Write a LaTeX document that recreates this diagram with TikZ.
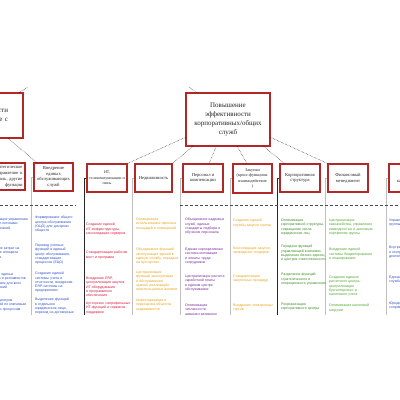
\documentclass[tikz,border=0pt]{standalone}
\usepackage{fontspec}
\setmainfont{Liberation Serif}
\newfontfamily\colfont{Liberation Sans}
\usetikzlibrary{calc}
\definecolor{boxred}{RGB}{178,40,40}
\definecolor{cblue}{RGB}{45,75,195}
\definecolor{cred}{RGB}{210,20,60}
\definecolor{camber}{RGB}{228,160,20}
\definecolor{cpurple}{RGB}{115,40,150}
\definecolor{cgreen}{RGB}{55,135,30}
\definecolor{cgreen2}{RGB}{75,160,40}
\begin{document}
\begin{tikzpicture}[x=1pt,y=-1pt,
  box/.style={draw=boxred, line width=1.1pt, fill=white, align=center, inner sep=1pt,
    font=\fontsize{4.6}{5.8}\selectfont, text=black!85},
  bigbox/.style={box, font=\fontsize{7}{8.7}\selectfont},
  conn/.style={densely dotted, line width=0.45pt, black},
  vdark/.style={line width=0.6pt, black!85},
  vlight/.style={line width=0.5pt, black!25},
  dline/.style={densely dashed, line width=0.5pt, black!70},
  item/.style={anchor=north west, text width=#1, align=left, inner sep=0pt,
    font=\colfont\fontsize{3.5}{4.25}\selectfont}]
\useasboundingbox (0,0) rectangle (400,400);
\begin{scope}
\clip (0,0) rectangle (400,314);
% parent boxes
\node[bigbox, minimum width=83pt, minimum height=45pt, text width=53pt, inner xsep=15pt, align=right] (lp) at (-18.5,115.5) {эффективности\\взаимодействие с};
\node[bigbox, minimum width=84pt, minimum height=53pt] (top) at (228,119.5) {Повышение\\эффективности\\корпоративных/общих\\служб};
% second row boxes
\node[box, minimum width=45pt, minimum height=27pt, text width=40pt, align=right] (b0) at (2.5,176.5) {Стратегическое управление и\\контроль, другие\\функции};
\node[box, minimum width=39pt, minimum height=28pt] (b1) at (53.5,177) {Внедрение\\единых\\обслуживающих\\служб};
\node[box, minimum width=40pt, minimum height=28pt, font=\fontsize{4}{5.4}\selectfont] (it) at (107,178) {ИТ,\\телекоммуникации и\\связь};
\node[box, minimum width=37pt, minimum height=28pt] (nd) at (153.5,178) {Недвижимость};
\node[box, minimum width=40pt, minimum height=28pt] (ps) at (203,178) {Персонал и\\компенсации};
\node[box, minimum width=39pt, minimum height=29pt, font=\fontsize{4.2}{5.4}\selectfont] (zk) at (252.5,178.5) {Закупки\\(кросс-функцион.\\взаимодействие\\)};
\node[box, minimum width=40pt, minimum height=28pt] (kp) at (300,178) {Корпоративная\\структура};
\node[box, minimum width=40pt, minimum height=28pt] (fn) at (348,178) {Финансовый\\менеджмент};
\node[box, minimum width=41pt, minimum height=28pt] (rt) at (409.5,178) {Задачи\\казначейства};
% connectors
\coordinate (lpup) at (28,87);
\coordinate (topup) at (189,87);
\draw[conn] ($(lp.north west)!0.95!(lp.north east)$) -- (lpup);
\draw[conn] ($(top.north west)!0.13!(top.north east)$) -- (topup);
\draw[conn] ($(lp.south west)!0.82!(lp.south east)$) -- ($(b1.north west)!0.08!(b1.north east)$);
\draw[conn] ($(top.north west)!0.83!(top.south west)$) -- (it.north east);
\draw[conn] ($(top.south west)!0.083!(top.south east)$) -- (nd.north east);
\draw[conn] ($(top.south west)!0.36!(top.south east)$) -- ($(ps.north west)!0.65!(ps.north east)$);
\draw[conn] ($(top.south west)!0.61!(top.south east)$) -- ($(zk.north west)!0.36!(zk.north east)$);
\draw[conn] ($(top.south west)!0.92!(top.south east)$) -- ($(kp.north west)!0.125!(kp.north east)$);
\draw[conn] ($(top.north east)!0.83!(top.south east)$) -- (fn.north west);
% vertical lines
\foreach \n/\s in {b1/vlight, it/vdark, nd/vlight, ps/vlight, zk/vlight, kp/vdark, fn/vlight, rt/vlight}{
  \coordinate (\n end) at ($(\n.west)+(-2.5,150)$);
  \draw[\s] (\n.west) -| (\n end);
}
% dashed separators
\coordinate (d1a) at (0,205.5);
\coordinate (d1b) at (76,205.5);
\coordinate (d2a) at (180,205.5);
\coordinate (d2b) at (400,205.5);
\draw[dline] (d1a) -- (d1b);
\draw[dline] (d2a) -- (d2b);
% column L0
\begin{scope}[every node/.style={item=46pt, text=cblue}]
\node (l01) at (-18,218) {Централизация управления денежными потоками группы компаний};
\node (l02) at (-18,247) {Сокращение затрат на содержание аппарата управления};
\node (l03) at (-18,273) {Внедрение единых стандартов и регламентов обслуживания для всех подразделений};
\node (l04) at (-18,299) {Создание центров компетенций по ключевым функциям и процессам};
\end{scope}
% column B1
\begin{scope}[every node/.style={item=39pt, text=cblue}]
\node (c11) at (35,216) {Формирование общего центра обслуживания (ОЦО) для дочерних обществ};
\node (c12) at (35,244) {Перевод учетных функций в единый центр обслуживания, стандартизация процессов (ЕЦО)};
\node (c13) at (35,272) {Создание единой системы учета и отчетности, внедрение ERP-системы на предприятиях};
\node (c14) at (35,298) {Выделение функций в отдельное юридическое лицо, переход на договорные отношения};
\end{scope}
% column IT
\begin{scope}[every node/.style={item=44pt, text=cred}]
\node (c21) at (86,223) {Создание единой ИТ-инфраструктуры, консолидация серверов};
\node (c22) at (86,251) {Стандартизация рабочих мест и программ};
\node (c23) at (86,277) {Внедрение ERP, централизация закупок ИТ-оборудования и программного обеспечения};
\node (c24) at (86,302) {Аутсорсинг непрофильных ИТ-функций и сервисов поддержки};
\end{scope}
% column real estate
\begin{scope}[every node/.style={item=44pt, text=camber}]
\node (c31) at (136,218) {Оптимизация использования офисных площадей и помещений};
\node (c32) at (136,248) {Объединение функций эксплуатации зданий в единую службу, передача на аутсорсинг};
\node (c33) at (136,271) {Централизация функций эксплуатации и обслуживания зданий, реализация неиспользуемых активов};
\node (c34) at (136,299) {Инвентаризация и переоценка объектов недвижимости};
\end{scope}
% column personnel
\begin{scope}[every node/.style={item=42pt, text=cpurple}]
\node (c41) at (185,218) {Объединение кадровых служб, единые стандарты подбора и обучения персонала};
\node (c42) at (185,248) {Единая корпоративная система мотивации и оплаты труда сотрудников};
\node (c43) at (185,275) {Централизация расчета заработной платы в едином центре обслуживания};
\node (c44) at (185,304) {Оптимизация численности административного персонала};
\end{scope}
% column purchasing
\begin{scope}[every node/.style={item=42pt, text=camber}]
\node (c51) at (233,219) {Создание единой службы закупок группы};
\node (c52) at (233,247) {Консолидация закупок, проведение тендеров};
\node (c53) at (233,275) {Стандартизация закупочных процедур};
\node (c54) at (233,304) {Внедрение электронных торгов};
\end{scope}
% column corporate structure
\begin{scope}[every node/.style={item=45pt, text=cgreen}]
\node (c61) at (281,219) {Оптимизация корпоративной структуры, сокращение числа юридических лиц};
\node (c62) at (281,245) {Передача функций управляющей компании, выделение бизнес-единиц и центров ответственности};
\node (c63) at (281,273) {Разделение функций стратегического и операционного управления};
\node (c64) at (281,303) {Реорганизация корпоративного центра};
\end{scope}
% column finance
\begin{scope}[every node/.style={item=45pt, text=cgreen2}]
\node (c71) at (329,219) {Централизация казначейства, управление ликвидностью и долговым портфелем группы};
\node (c72) at (329,248) {Внедрение единой системы бюджетирования и планирования};
\node (c73) at (329,276) {Создание единого расчетного центра, централизация бухгалтерского и налогового учета};
\node (c74) at (329,304) {Оптимизация налоговой нагрузки};
\end{scope}
% right column
\begin{scope}[every node/.style={item=40pt, text=cblue}]
\node (c81) at (389,219) {Управление рисками группы компаний};
\node (c82) at (389,246) {Внутренний аудит и контроль за деятельностью};
\node (c83) at (389,276) {Единая правовая служба};
\node (c84) at (389,302) {Юридическое сопровождение сделок};
\end{scope}
\end{scope}
\end{tikzpicture}
\end{document}
